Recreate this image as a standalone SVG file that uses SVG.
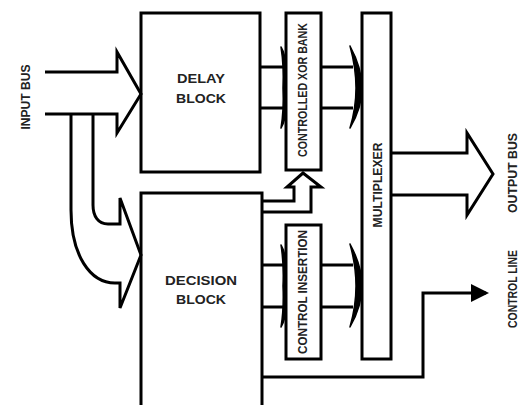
<svg xmlns="http://www.w3.org/2000/svg" width="520" height="405" viewBox="0 0 520 405">
<style>
.box{fill:#fff;stroke:#000;stroke-width:3}
.ln{fill:none;stroke:#000;stroke-width:3;stroke-linejoin:miter}
.hd{fill:#000;stroke:#000;stroke-width:1.5;stroke-linejoin:round}
.t{font-family:"Liberation Sans",Arial,sans-serif;font-weight:bold;font-size:13px;fill:#222;text-anchor:middle;dominant-baseline:central}
.s{font-size:12px}
</style>
<defs>
<marker id="ah" markerWidth="6" markerHeight="6" refX="5" refY="3" orient="auto" markerUnits="strokeWidth">
<path d="M0,0 L6,3 L0,6 Z" fill="#000"/>
</marker>
</defs>
<rect width="520" height="405" fill="#fff"/>
<g id="delay-block">
<rect class="box" x="141" y="13" width="119" height="159"/>
<text class="t" x="201" y="78" textLength="48" lengthAdjust="spacingAndGlyphs">DELAY</text>
<text class="t" x="201" y="98" textLength="50" lengthAdjust="spacingAndGlyphs">BLOCK</text>
</g>
<g id="decision-block">
<rect class="box" x="141" y="193" width="121" height="220"/>
<text class="t" x="201" y="280" textLength="72" lengthAdjust="spacingAndGlyphs">DECISION</text>
<text class="t" x="201" y="299" textLength="50" lengthAdjust="spacingAndGlyphs">BLOCK</text>
</g>
<g id="xor-bank">
<rect class="box" x="286" y="13" width="35" height="157"/>
<text class="t s" transform="translate(303,90) rotate(-90)" textLength="134" lengthAdjust="spacingAndGlyphs">CONTROLLED XOR BANK</text>
</g>
<g id="control-insertion">
<rect class="box" x="286" y="225" width="35" height="134"/>
<text class="t s" transform="translate(303,292) rotate(-90)" textLength="124" lengthAdjust="spacingAndGlyphs">CONTROL INSERTION</text>
</g>
<g id="multiplexer">
<rect class="box" x="362" y="13" width="29" height="346"/>
<text class="t" transform="translate(377,185) rotate(-90)" textLength="85" lengthAdjust="spacingAndGlyphs">MULTIPLEXER</text>
</g>
<g id="labels">
<text class="t" transform="translate(25,97) rotate(-90)" textLength="65" lengthAdjust="spacingAndGlyphs">INPUT BUS</text>
<text class="t" transform="translate(512,173) rotate(-90)" textLength="80" lengthAdjust="spacingAndGlyphs">OUTPUT BUS</text>
<text class="t" transform="translate(512,289) rotate(-90)" textLength="78" lengthAdjust="spacingAndGlyphs">CONTROL LINE</text>
</g>
<g id="connectors">
<!-- input bus -->
<path class="ln" d="M45,72 H117 V52 L141,94 L117,133 V114 H45"/>
<!-- split to decision block -->
<path class="ln" d="M71,114 V210 C71,255 90,283 115,283 H120 V308 L141,255 L120,198 V224 H108 C98,224 93,216 93,205 V114"/>
<!-- delay to xor -->
<path class="ln" d="M260,67 H284 M260,108 H284"/>
<path class="hd" d="M281,47 Q286,55 286,70 L286,106 Q286,120 281,128 Q284,110 283,88 Q284,66 281,47 Z"/>
<!-- xor to mux -->
<path class="ln" d="M321,67 H353 M321,108 H353"/>
<path class="hd" d="M350,46 Q362,68 362,88 Q362,108 350,128 Q356,108 356,88 Q356,68 350,46 Z"/>
<!-- decision to xor (up arrow) -->
<path class="ln" d="M262,201 H294 V187 H287 L303,173 L321,187 H311 V212 H262"/>
<!-- decision to control insertion -->
<path class="ln" d="M262,265 H284 M262,307 H284"/>
<path class="hd" d="M281,245 Q286,253 286,268 L286,305 Q286,319 281,327 Q284,309 283,286 Q284,264 281,245 Z"/>
<!-- control insertion to mux -->
<path class="ln" d="M321,265 H353 M321,307 H353"/>
<path class="hd" d="M350,244 Q362,266 362,286 Q362,306 350,327 Q356,306 356,286 Q356,266 350,244 Z"/>
<!-- output bus -->
<path class="ln" d="M391,153 H467 V133 L493,174 L467,215 V195 H391"/>
<!-- control line -->
<path class="ln" d="M262,377 H423 V293 H486" marker-end="url(#ah)"/>
</g>
</svg>
